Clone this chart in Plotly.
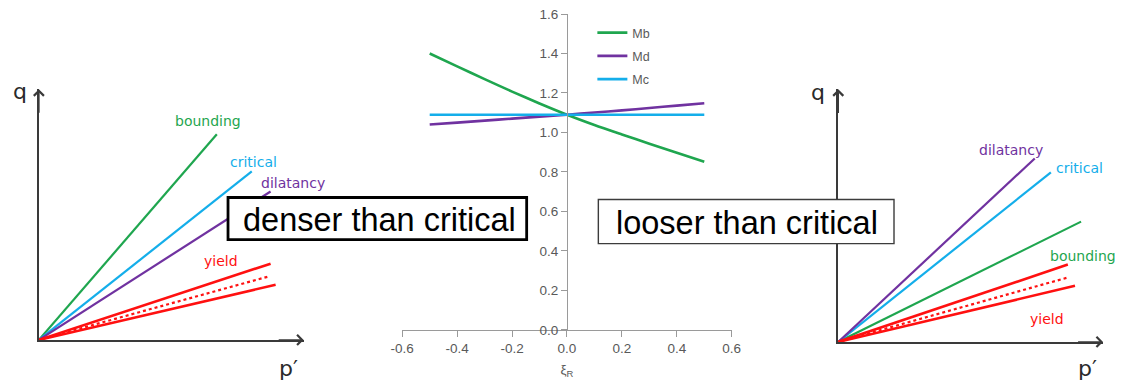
import plotly.graph_objects as go

W, H = 1125, 386
INSET = 8  # plot area sits this many pixels inside the page edge

# ---- stress-ratio slopes against the state parameter xi_R ----
xi_r = [-0.5, -0.4, -0.3, -0.2, -0.1, 0.0, 0.1, 0.2, 0.3, 0.4, 0.5]
mb = [1.40, 1.335, 1.27, 1.207, 1.147, 1.09, 1.038, 0.99, 0.943, 0.897, 0.852]
md = [1.04, 1.05, 1.06, 1.07, 1.08, 1.09, 1.101, 1.112, 1.124, 1.136, 1.148]
mc = [1.09, 1.09, 1.09, 1.09, 1.09, 1.09, 1.09, 1.09, 1.09, 1.09, 1.09]

x_ticks = [-0.6, -0.4, -0.2, 0.0, 0.2, 0.4, 0.6]
x_tick_labels = ["-0.6", "-0.4", "-0.2", "0.0", "0.2", "0.4", "0.6"]
y_ticks = [0.0, 0.2, 0.4, 0.6, 0.8, 1.0, 1.2, 1.4, 1.6]
y_tick_labels = ["0.0", "0.2", "0.4", "0.6", "0.8", "1.0", "1.2", "1.4", "1.6"]

# ---- schematic surfaces in the p'-q plane (end point of each ray from the origin) ----
surface_names = ["bounding", "critical", "dilatancy", "yield", "yield", "yield"]
dense_p_end = [0.672, 0.804, 0.875, 0.875, 0.864, 0.894]
dense_q_end = [0.820, 0.672, 0.592, 0.304, 0.252, 0.220]
loose_p_end = [0.917, 0.803, 0.742, 0.867, 0.864, 0.894]
loose_q_end = [0.476, 0.671, 0.726, 0.306, 0.254, 0.222]

GREEN = "#1FA64F"
CYAN = "#14AEEA"
PURPLE = "#7032A0"
RED = "#FF1010"
surface_style = [
    dict(color=GREEN, width=2.2),
    dict(color=CYAN, width=2.2),
    dict(color=PURPLE, width=2.2),
    dict(color=RED, width=2.6),
    dict(color=RED, width=2.2, dash="dot"),
    dict(color=RED, width=2.6),
]


def px(x):
    """page pixel column -> paper fraction"""
    return (x - INSET) / (W - 2 * INSET)


def py(y):
    """page pixel row (from top) -> paper fraction"""
    return 1 - (y - INSET) / (H - 2 * INSET)


fig = go.Figure()

# central chart
for name, vals, col in [("Mb", mb, GREEN), ("Md", md, PURPLE), ("Mc", mc, CYAN)]:
    fig.add_trace(go.Scatter(
        x=xi_r, y=vals, mode="lines", name=name, legendgroup=name,
        line=dict(color=col, width=2.6, shape="spline", smoothing=0.8), xaxis="x", yaxis="y",
    ))

# schematic diagrams
for pend, qend, ax in [(dense_p_end, dense_q_end, "2"), (loose_p_end, loose_q_end, "3")]:
    for i in range(len(surface_names)):
        fig.add_trace(go.Scatter(
            x=[0, pend[i]], y=[0, qend[i]], mode="lines", name=surface_names[i],
            line=surface_style[i], showlegend=False,
            xaxis="x" + ax, yaxis="y" + ax, hoverinfo="skip",
        ))

mid_x_dom = [px(400), px(731)]
mid_y_dom = [py(330), py(15)]
AXC = "#9a9a9a"
SANS = "Liberation Sans, Arial, sans-serif"
TICKF = dict(family=SANS, size=13.5, color="#595959")

schem_axis = dict(range=[0, 1], showgrid=False, zeroline=False, showticklabels=False,
                  ticks="", showline=True, linecolor="#3a3a3a", linewidth=1.5, fixedrange=True)

fig.update_layout(
    width=W, height=H,
    margin=dict(l=0, r=0, t=0, b=0),
    paper_bgcolor="white", plot_bgcolor="rgba(0,0,0,0)",
    showlegend=True,
    legend=dict(x=px(591), y=py(19), xanchor="left", yanchor="top",
                font=dict(family=SANS, size=12.5, color="#595959"),
                bgcolor="rgba(0,0,0,0)", tracegroupgap=4, itemwidth=30),
    xaxis=dict(domain=mid_x_dom, range=[-0.6, 0.6], tickvals=x_ticks, ticktext=x_tick_labels,
               showgrid=False, zeroline=False, showline=True, linecolor=AXC, linewidth=1.2,
               ticks="outside", ticklen=6, tickcolor=AXC, tickfont=TICKF, anchor="y",
               ticklabeloverflow="allow",
               title=dict(text="ξ<sub>R</sub>", standoff=9,
                          font=dict(family=SANS, size=13.5, color="#595959"))),
    yaxis=dict(domain=mid_y_dom, range=[0, 1.6], tickvals=y_ticks, ticktext=y_tick_labels,
               showgrid=False, zeroline=False, showline=True, linecolor=AXC, linewidth=1.2,
               ticks="outside", ticklen=6, tickcolor=AXC, tickfont=TICKF,
               ticklabeloverflow="allow",
               anchor="free", position=(mid_x_dom[0] + mid_x_dom[1]) / 2),
    xaxis2=dict(domain=[px(35), px(301)], anchor="y2", **schem_axis),
    yaxis2=dict(domain=[py(340), py(90)], anchor="x2", **schem_axis),
    xaxis3=dict(domain=[px(838), px(1104)], anchor="y3", **schem_axis),
    yaxis3=dict(domain=[py(342), py(90)], anchor="x3", **schem_axis),
)

# boxes with the density-state captions
fig.add_shape(type="rect", xref="paper", yref="paper", x0=px(225), x1=px(525), y0=py(240), y1=py(198),
              line=dict(color="black", width=2.8), fillcolor="white", layer="above")
fig.add_shape(type="rect", xref="paper", yref="paper", x0=px(597), x1=px(894), y0=py(244), y1=py(200),
              line=dict(color="#3c3c3c", width=1.4), fillcolor="white", layer="above")


def label(text, x, y, font):
    fig.add_annotation(x=px(x), y=py(y), xref="paper", yref="paper", text=text,
                       xanchor="center", yanchor="middle", showarrow=False, font=font)


BOXF = dict(family=SANS, size=32.5, color="black")
label("denser than critical", 377, 220, BOXF)
label("looser than critical", 746, 223, BOXF)

# arrowheads on the schematic axes
for ax in ["2", "3"]:
    fig.add_annotation(x=1, y=0, ax=0.9, ay=0, xref="x" + ax, yref="y" + ax,
                       axref="x" + ax, ayref="y" + ax, text="", showarrow=True,
                       arrowhead=4, arrowsize=1.3, arrowwidth=1.5, arrowcolor="#3a3a3a")
    fig.add_annotation(x=0, y=1, ax=0, ay=0.9, xref="x" + ax, yref="y" + ax,
                       axref="x" + ax, ayref="y" + ax, text="", showarrow=True,
                       arrowhead=4, arrowsize=1.3, arrowwidth=1.5, arrowcolor="#3a3a3a")

AXLF = dict(family="DejaVu Sans, sans-serif", size=22, color="#2a2a2a")
for x, y in [(16, 92), (818, 93)]:
    label("q", x, y, AXLF)
for x, y in [(286, 369), (1088, 369)]:
    label("p′", x, y, AXLF)

# surface labels
LBLF = "DejaVu Sans, Verdana, sans-serif"
labels = [
    ("bounding", GREEN, 205, 122), ("critical", CYAN, 251, 163),
    ("dilatancy", PURPLE, 290, 184), ("yield", RED, 218, 261),
    ("dilatancy", PURPLE, 1012, 151), ("critical", CYAN, 1080, 169),
    ("bounding", GREEN, 1084, 256), ("yield", RED, 1048, 319),
]
for txt, col, x, y in labels:
    label(txt, x, y, dict(family=LBLF, size=14, color=col))

fig.write_html("out.html")
